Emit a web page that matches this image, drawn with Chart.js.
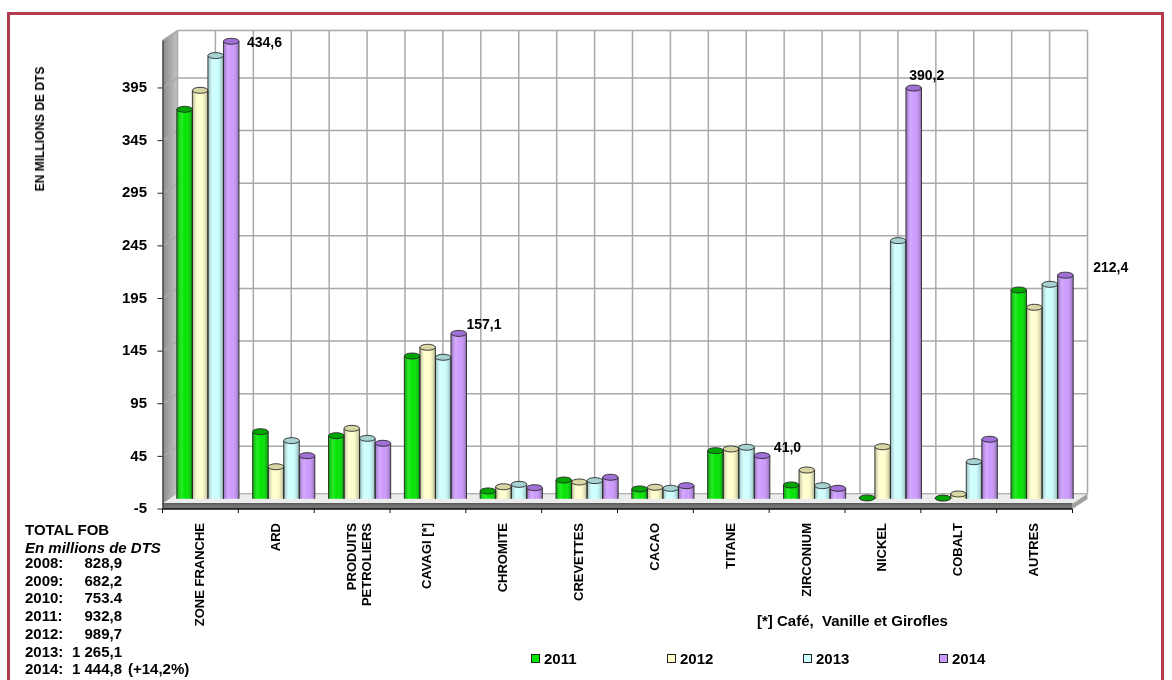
<!DOCTYPE html>
<html>
<head>
<meta charset="utf-8">
<script src="https://cdn.jsdelivr.net/npm/chart.js@4/dist/chart.umd.min.js"></script>
<style>
  html, body { margin: 0; padding: 0; background: #ffffff; }
  #wrap { position: relative; width: 1172px; height: 680px; overflow: hidden;
          font-family: 'Liberation Sans', Arial, sans-serif; color: #000; }
  #frame { position: absolute; left: 7px; top: 12px; width: 1151px; height: 700px;
           border: 3px solid #b13c50; }
  #chart { position: absolute; left: 0; top: 0; }
  .ytitle { position: absolute; left: 40px; top: 129px; transform: translate(-50%, -50%) rotate(-90deg);
            font-weight: bold; font-size: 12px; white-space: nowrap; }
  .tot { position: absolute; left: 25px; font-weight: bold; font-size: 15px; line-height: 18px; white-space: pre; }
  .tot .val { position: absolute; right: 0; top: 0; }
  .note { position: absolute; left: 757px; top: 612px; font-weight: bold; font-size: 15px; white-space: pre; }
  #legend { position: absolute; left: 531px; top: 649px; display: flex; }
  #legend .item { width: 136px; display: flex; align-items: center; font-weight: bold; font-size: 15px; height: 18px; }
  #legend .box { width: 7px; height: 7px; border: 1px solid #222; margin-right: 4px; }
</style>
</head>
<body>
<div id="wrap">
  <div id="frame"></div>
  <canvas id="chart" width="1172" height="680"></canvas>
  <div class="ytitle">EN MILLIONS DE DTS</div>
  <div id="totals"></div>
  <div class="note">[*] Café,  Vanille et Girofles</div>
  <div id="legend"></div>
</div>
<script>
// Export categories (x axis)
const categories = ['ZONE FRANCHE', 'ARD', ['PRODUITS', 'PETROLIERS'], 'CAVAGI [*]', 'CHROMITE',
                    'CREVETTES', 'CACAO', 'TITANE', 'ZIRCONIUM', 'NICKEL', 'COBALT', 'AUTRES'];

// Export values, millions of DTS
const exports2011 = [370.0, 63.7, 59.9, 135.6, 7.4, 17.8, 9.3, 45.7, 13.1, 0.8, 0.6, 198.3];
const exports2012 = [388.0, 30.4, 66.9, 143.9, 11.4, 15.9, 10.9, 47.3, 27.3, 49.4, 4.5, 181.9];
const exports2013 = [421.0, 55.2, 57.4, 134.4, 13.7, 17.2, 9.9, 48.9, 12.4, 245.2, 35.2, 203.7];
const exports2014 = [434.6, 40.9, 52.7, 157.1, 10.5, 20.4, 12.4, 41.0, 9.9, 390.2, 56.5, 212.4];

const seriesLabels = ['2011', '2012', '2013', '2014'];

// Value axis ticks
const yTickValues = [-5, 45, 95, 145, 195, 245, 295, 345, 395];

// Categories whose 2014 value is printed
const labelledCategories = ['ZONE FRANCHE', 'CAVAGI [*]', 'TITANE', 'NICKEL', 'AUTRES'];

// Total FOB side table
const totalYears  = ['2008', '2009', '2010', '2011', '2012', '2013', '2014'];
const totalValues = ['828,9', '682,2', '753.4', '932,8', '989,7', '1 265,1', '1 444,8'];
const totalGrowth = '(+14,2%)';

// ---- styles ----
const FONT = "'Liberation Sans', Arial, sans-serif";
Chart.defaults.font.family = FONT;
const fillColors = ['#00e600', '#ffffcc', '#ccffff', '#cc99ff'];
const capColors  = ['#00a600', '#d9d6a6', '#a6d2d2', '#a070d6'];
const DX = 7.5, DY = 5;  // half depth of the 3D box (x right, y up)

// label placement around the top of the 2014 cylinder
const valueLabelPlacement = {
  'ZONE FRANCHE': { mode: 'right', dx: 8,  dy: 2 },
  'CAVAGI [*]':   { mode: 'right', dx: 0,  dy: -8 },
  'TITANE':       { mode: 'right', dx: 4,  dy: -7 },
  'NICKEL':       { mode: 'above', dx: 13, dy: -12 },
  'AUTRES':       { mode: 'right', dx: 20, dy: -7 }
};

function fmt(v) { return v.toFixed(1).replace('.', ','); }

function line(ctx, x1, y1, x2, y2) {
  ctx.beginPath(); ctx.moveTo(x1, y1); ctx.lineTo(x2, y2); ctx.stroke();
}
function poly(ctx, pts) {
  ctx.beginPath(); ctx.moveTo(pts[0][0], pts[0][1]);
  for (let i = 1; i < pts.length; i++) ctx.lineTo(pts[i][0], pts[i][1]);
  ctx.closePath(); ctx.fill();
}

// Walls, floor, gridlines and axis lines of the 3D box
const box3d = {
  id: 'box3d',
  beforeDatasetsDraw(chart) {
    const { ctx, chartArea: a, scales: { x, y } } = chart;
    const L = a.left, R = a.right, T = a.top;
    const y0 = y.getPixelForValue(0), yb = y.getPixelForValue(-5);
    const step = x.getPixelForValue(1) - x.getPixelForValue(0);
    ctx.save();
    // back wall
    ctx.fillStyle = '#ffffff';
    ctx.fillRect(L + DX, T - DY, R - L, y0 - T);
    // left wall
    const g = ctx.createLinearGradient(L - DX, 0, L + DX, 0);
    g.addColorStop(0, '#8a8a8a'); g.addColorStop(1, '#c4c4c4');
    ctx.fillStyle = g;
    poly(ctx, [[L - DX, T + DY], [L + DX, T - DY], [L + DX, y0 - DY], [L - DX, y0 + DY]]);
    // horizontal gridlines on the back wall and the left wall
    ctx.strokeStyle = '#a9a9a9'; ctx.lineWidth = 1.5;
    const hv = y.ticks.map(t => t.value).filter(v => v > -5);
    hv.push(y.max);
    hv.forEach(v => {
      const py = y.getPixelForValue(v);
      line(ctx, L + DX, py - DY, R + DX, py - DY);
      line(ctx, L - DX, py + DY, L + DX, py - DY);
    });
    // vertical gridlines, every half category
    for (let i = 0; i <= 2 * x.ticks.length; i++) {
      const px = x.getPixelForValue(0) - step / 2 + i * step / 2 + DX;
      line(ctx, px, T - DY, px, y0 - DY);
    }
    // floor top face
    ctx.fillStyle = '#ececec';
    poly(ctx, [[L - DX, y0 + DY], [L + DX, y0 - DY], [R + DX, y0 - DY], [R - DX, y0 + DY]]);
    ctx.strokeStyle = '#9a9a9a'; ctx.lineWidth = 1.2;
    line(ctx, L + DX, y0 - DY, R + DX, y0 - DY);
    // floor front face
    ctx.fillStyle = '#727272';
    ctx.fillRect(L - DX, y0 + DY, R - L, yb - y0);
    // floor right face
    ctx.fillStyle = '#a0a0a0';
    poly(ctx, [[R - DX, y0 + DY], [R + DX, y0 - DY], [R + DX, yb - DY], [R - DX, yb + DY]]);
    ctx.strokeStyle = '#3a3a3a'; ctx.lineWidth = 1;
    line(ctx, L - DX, y0 + DY, R - DX, y0 + DY);
    ctx.strokeStyle = '#111'; ctx.lineWidth = 1.5;
    line(ctx, L - DX, yb + DY, R - DX, yb + DY);
    // front value axis with ticks
    ctx.strokeStyle = '#222'; ctx.lineWidth = 1;
    line(ctx, L - DX + 0.5, T + DY, L - DX + 0.5, yb + DY);
    y.ticks.forEach(t => {
      const py = y.getPixelForValue(t.value) + DY;
      line(ctx, L - DX - 5, py, L - DX, py);
    });
    // category ticks under the floor
    ctx.strokeStyle = '#111';
    for (let i = 0; i <= x.ticks.length; i++) {
      const px = x.getPixelForValue(0) - step / 2 + i * step - DX;
      line(ctx, px, yb + DY, px, yb + DY + 4);
    }
    ctx.restore();
  }
};

// Cylinder shading, caps and value labels drawn on the library's bar elements
const cylinders = {
  id: 'cylinders',
  afterDatasetsDraw(chart) {
    const { ctx } = chart;
    ctx.save();
    chart.data.datasets.forEach((ds, di) => {
      const meta = chart.getDatasetMeta(di);
      meta.data.forEach(bar => {
        const { x: bx, y: by, base, width: w } = bar.getProps(['x', 'y', 'base', 'width'], true);
        const l = bx - w / 2;
        const g = ctx.createLinearGradient(l, 0, l + w, 0);
        g.addColorStop(0, 'rgba(0,0,0,0.30)');
        g.addColorStop(0.3, 'rgba(255,255,255,0.15)');
        g.addColorStop(0.55, 'rgba(255,255,255,0)');
        g.addColorStop(1, 'rgba(0,0,0,0.32)');
        ctx.fillStyle = g;
        ctx.fillRect(l, by, w, base - by);
        ctx.strokeStyle = '#2a2a2a'; ctx.lineWidth = 0.9;
        line(ctx, l, by, l, base); line(ctx, l + w, by, l + w, base);
        // cap
        ctx.beginPath();
        ctx.ellipse(bx, by, w / 2, 3, 0, 0, Math.PI * 2);
        ctx.fillStyle = capColors[di]; ctx.fill(); ctx.stroke();
      });
    });
    // value labels on 2014
    const meta = chart.getDatasetMeta(3);
    ctx.fillStyle = '#000';
    ctx.font = 'bold 14px ' + FONT;
    ctx.textBaseline = 'middle';
    categories.forEach((c, i) => {
      if (typeof c !== 'string' || !labelledCategories.includes(c)) return;
      const p = valueLabelPlacement[c];
      const bar = meta.data[i];
      const { x: bx, y: by, width: w } = bar.getProps(['x', 'y', 'width'], true);
      const txt = fmt(exports2014[i]);
      if (p.mode === 'above') {
        ctx.textAlign = 'center';
        ctx.fillText(txt, bx + p.dx, by + p.dy);
      } else {
        ctx.textAlign = 'left';
        ctx.fillText(txt, bx + w / 2 + p.dx, by + p.dy);
      }
    });
    ctx.restore();
  }
};

const seriesValues = [exports2011, exports2012, exports2013, exports2014];

new Chart(document.getElementById('chart'), {
  type: 'bar',
  data: {
    labels: categories,
    datasets: seriesLabels.map((lab, i) => ({
      label: lab,
      data: seriesValues[i],
      backgroundColor: fillColors[i],
      borderWidth: 0,
      categoryPercentage: 0.82,
      barPercentage: 1.0
    }))
  },
  options: {
    responsive: false,
    animation: false,
    layout: { padding: { left: 0, right: 92, top: 35.6, bottom: 0 } },
    plugins: { legend: { display: false }, tooltip: { enabled: false } },
    scales: {
      x: {
        grid: { display: false, drawTicks: false },
        border: { display: false },
        ticks: {
          autoSkip: false, minRotation: 90, maxRotation: 90,
          padding: 19, labelOffset: -7.5, color: '#000',
          font: { size: 13, weight: 'bold', family: FONT }
        },
        afterFit(s) { s.height = 176; }
      },
      y: {
        min: -5, max: 440,
        grid: { display: false, drawTicks: false },
        border: { display: false },
        afterBuildTicks(s) { s.ticks = yTickValues.map(v => ({ value: v })); },
        ticks: {
          padding: 23, labelOffset: 5, color: '#000',
          font: { size: 15, weight: 'bold', family: FONT }
        },
        afterFit(s) { s.width = 170; }
      }
    }
  },
  plugins: [box3d, cylinders]
});

// Total FOB table
const totals = document.getElementById('totals');
function addLine(text, top, style) {
  const d = document.createElement('div');
  d.className = 'tot'; d.style.top = top + 'px';
  if (style) Object.assign(d.style, style);
  d.textContent = text;
  totals.appendChild(d);
  return d;
}
addLine('TOTAL FOB', 521);
addLine('En millions de DTS', 539, { fontStyle: 'italic' });
totalYears.forEach((yr, i) => {
  const d = addLine(yr + ':', 554 + i * 17.7, { width: '97px' });
  const v = document.createElement('span');
  v.className = 'val'; v.textContent = totalValues[i];
  d.appendChild(v);
  if (i === totalYears.length - 1) addLine(totalGrowth, 554 + i * 17.7, { left: '128px' });
});

// Legend
const legend = document.getElementById('legend');
seriesLabels.forEach((lab, i) => {
  const it = document.createElement('div'); it.className = 'item';
  const b = document.createElement('span'); b.className = 'box'; b.style.background = fillColors[i];
  const t = document.createElement('span'); t.textContent = lab;
  it.appendChild(b); it.appendChild(t); legend.appendChild(it);
});
</script>
</body>
</html>
